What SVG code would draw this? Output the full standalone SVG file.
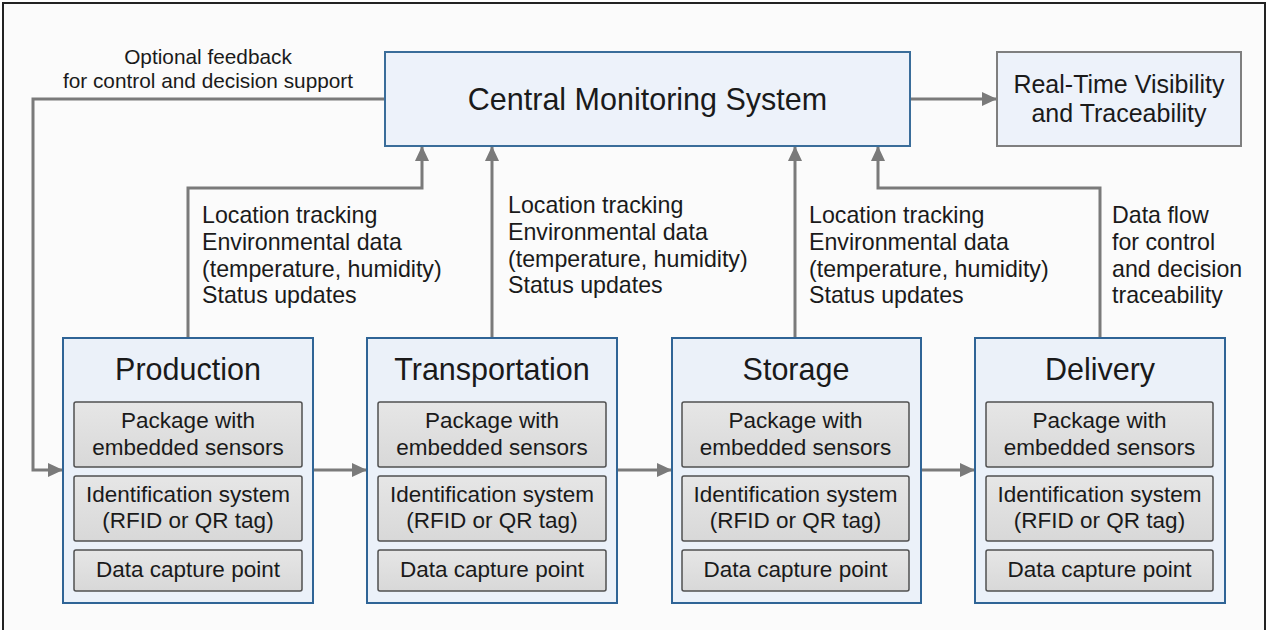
<svg xmlns="http://www.w3.org/2000/svg" width="1269" height="630" viewBox="0 0 1269 630">
  <defs>
    <marker id="arrow" viewBox="0 0 15 14" refX="14" refY="7" markerWidth="15" markerHeight="14" markerUnits="userSpaceOnUse" orient="auto">
      <path d="M0,0 L15,7 L0,14 Z" fill="#7a7a7a"/>
    </marker>
    <linearGradient id="itemFill" x1="0" y1="0" x2="0" y2="1">
      <stop offset="0" stop-color="#e6e6e6"/>
      <stop offset="1" stop-color="#d8d8d8"/>
    </linearGradient>
    <style>
      text { font-family: "Liberation Sans", Arial, sans-serif; fill: #1a1a1a; }
      .frame { fill: #fbfbfb; stroke: #222; stroke-width: 2; }
      .stage { fill: #ebf1f9; stroke: #2f6496; stroke-width: 2; }
      .hub { fill: #edf2fa; stroke: #3a6d9a; stroke-width: 2; }
      .out { fill: #edf2fa; stroke: #7f7f7f; stroke-width: 2; }
      .item { fill: url(#itemFill); stroke: #505050; stroke-width: 1.5; }
      .link { fill: none; stroke: #7a7a7a; stroke-width: 3; marker-end: url(#arrow); }
      .title { font-size: 30.5px; text-anchor: middle; }
      .item-text { font-size: 22.5px; text-anchor: middle; }
      .label { font-size: 23.2px; }
      .note { font-size: 20.8px; text-anchor: middle; }
    </style>
  </defs>

  <!-- page frame -->
  <rect class="frame" x="3" y="3" width="1262" height="640"/>

  <!-- connectors -->
  <g id="connectors">
    <path class="link" d="M385,99 H33 V470 H62"/>
    <path class="link" d="M910,99 H996"/>
    <path class="link" d="M188,338 V188 H422 V147"/>
    <path class="link" d="M492,338 V147"/>
    <path class="link" d="M795,338 V147"/>
    <path class="link" d="M1100,338 V188 H878 V147"/>
    <path class="link" d="M313,470 H366"/>
    <path class="link" d="M617,470 H671"/>
    <path class="link" d="M921,470 H974"/>
  </g>

  <!-- connector labels -->
  <g id="labels">
    <text class="note" x="208" y="64">Optional feedback</text>
    <text class="note" x="208" y="88">for control and decision support</text>
    <text class="label" x="202" y="223">Location tracking</text>
    <text class="label" x="202" y="250">Environmental data</text>
    <text class="label" x="202" y="277">(temperature, humidity)</text>
    <text class="label" x="202" y="303">Status updates</text>
    <text class="label" x="508" y="213">Location tracking</text>
    <text class="label" x="508" y="240">Environmental data</text>
    <text class="label" x="508" y="267">(temperature, humidity)</text>
    <text class="label" x="508" y="293">Status updates</text>
    <text class="label" x="809" y="223">Location tracking</text>
    <text class="label" x="809" y="250">Environmental data</text>
    <text class="label" x="809" y="277">(temperature, humidity)</text>
    <text class="label" x="809" y="303">Status updates</text>
    <text class="label" x="1112" y="223">Data flow</text>
    <text class="label" x="1112" y="250">for control</text>
    <text class="label" x="1112" y="277">and decision</text>
    <text class="label" x="1112" y="303">traceability</text>
  </g>

  <g id="central-monitoring">
    <rect class="hub" x="385" y="52" width="525" height="94"/>
    <text x="647.5" y="110" text-anchor="middle" font-size="30.5">Central Monitoring System</text>
  </g>

  <g id="visibility">
    <rect class="out" x="997" y="52" width="244" height="94"/>
    <text x="1119" y="93" text-anchor="middle" font-size="25">Real-Time Visibility</text>
    <text x="1119" y="122" text-anchor="middle" font-size="25">and Traceability</text>
  </g>

  <g id="production">
    <rect class="stage" x="63" y="338" width="250" height="265"/>
    <text class="title" x="188" y="380">Production</text>
    <rect class="item" x="74" y="402" width="228" height="65" rx="2"/>
    <text class="item-text" x="188" y="428">Package with</text>
    <text class="item-text" x="188" y="455">embedded sensors</text>
    <rect class="item" x="74" y="476" width="228" height="65" rx="2"/>
    <text class="item-text" x="188" y="502">Identification system</text>
    <text class="item-text" x="188" y="528">(RFID or QR tag)</text>
    <rect class="item" x="74" y="550" width="228" height="41" rx="2"/>
    <text class="item-text" x="188" y="577">Data capture point</text>
  </g>

  <g id="transportation">
    <rect class="stage" x="367" y="338" width="250" height="265"/>
    <text class="title" x="492" y="380">Transportation</text>
    <rect class="item" x="378" y="402" width="228" height="65" rx="2"/>
    <text class="item-text" x="492" y="428">Package with</text>
    <text class="item-text" x="492" y="455">embedded sensors</text>
    <rect class="item" x="378" y="476" width="228" height="65" rx="2"/>
    <text class="item-text" x="492" y="502">Identification system</text>
    <text class="item-text" x="492" y="528">(RFID or QR tag)</text>
    <rect class="item" x="378" y="550" width="228" height="41" rx="2"/>
    <text class="item-text" x="492" y="577">Data capture point</text>
  </g>

  <g id="storage">
    <rect class="stage" x="672" y="338" width="249" height="265"/>
    <text class="title" x="796" y="380">Storage</text>
    <rect class="item" x="682" y="402" width="227" height="65" rx="2"/>
    <text class="item-text" x="795.5" y="428">Package with</text>
    <text class="item-text" x="795.5" y="455">embedded sensors</text>
    <rect class="item" x="682" y="476" width="227" height="65" rx="2"/>
    <text class="item-text" x="795.5" y="502">Identification system</text>
    <text class="item-text" x="795.5" y="528">(RFID or QR tag)</text>
    <rect class="item" x="682" y="550" width="227" height="41" rx="2"/>
    <text class="item-text" x="795.5" y="577">Data capture point</text>
  </g>

  <g id="delivery">
    <rect class="stage" x="975" y="338" width="250" height="265"/>
    <text class="title" x="1100" y="380">Delivery</text>
    <rect class="item" x="986" y="402" width="227" height="65" rx="2"/>
    <text class="item-text" x="1099.5" y="428">Package with</text>
    <text class="item-text" x="1099.5" y="455">embedded sensors</text>
    <rect class="item" x="986" y="476" width="227" height="65" rx="2"/>
    <text class="item-text" x="1099.5" y="502">Identification system</text>
    <text class="item-text" x="1099.5" y="528">(RFID or QR tag)</text>
    <rect class="item" x="986" y="550" width="227" height="41" rx="2"/>
    <text class="item-text" x="1099.5" y="577">Data capture point</text>
  </g>
</svg>
